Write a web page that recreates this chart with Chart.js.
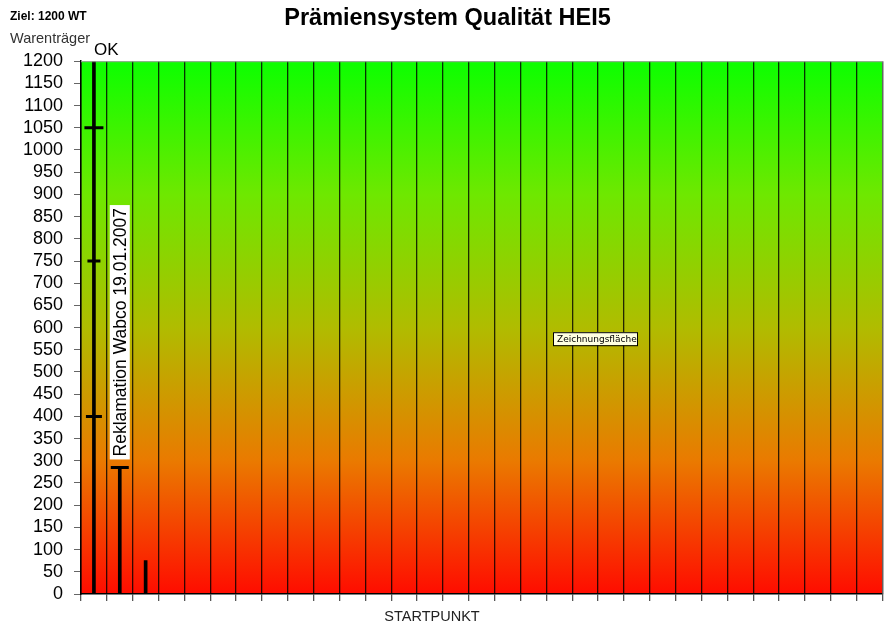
<!DOCTYPE html>
<html>
<head>
<meta charset="utf-8">
<script src="https://cdn.jsdelivr.net/npm/chart.js@4"></script>
<style>
    html, body { margin: 0; padding: 0; background: #fff; }
    #wrap { width: 895px; height: 627px; position: relative; }
</style>
</head>
<body>
<div id="wrap"><canvas id="chart"></canvas></div>
<script>
// 31 unlabeled slots along the x axis
const categories = ['', '', '', '', '', '', '', '', '', '', '', '', '', '', '', '',
    '', '', '', '', '', '', '', '', '', '', '', '', '', '', ''];
const reachedValues = [1200, 285, 75];
const marksUpper = [1050, 285];
const marksMiddle = [750];
const marksLower = [400];
const yMin = 0;
const yMax = 1200;
const yStep = 50;

const FONT = '"Liberation Sans", Arial, sans-serif';

const backgroundPlugin = {
    id: 'plotBackground',
    beforeDraw(chart) {
        const { ctx, chartArea: a } = chart;
        const g = ctx.createLinearGradient(0, a.top, 0, a.bottom);
        g.addColorStop(0, '#0cff00');
        g.addColorStop(0.25, '#6ee800');
        g.addColorStop(0.5, '#b0bc00');
        g.addColorStop(0.75, '#ea7a00');
        g.addColorStop(1, '#ff0c00');
        ctx.save();
        ctx.fillStyle = g;
        ctx.fillRect(a.left, a.top, a.right - a.left, a.bottom - a.top);
        ctx.restore();
    },
    afterDraw(chart) {
        const { ctx, chartArea: a, scales } = chart;
        ctx.save();
        // grey frame top and right
        ctx.strokeStyle = '#a0a0a0';
        ctx.lineWidth = 1;
        ctx.beginPath();
        ctx.moveTo(a.left, a.top + 0.5);
        ctx.lineTo(a.right + 0.5, a.top + 0.5);
        ctx.lineTo(a.right + 0.5, a.bottom);
        ctx.stroke();

        // header texts
        ctx.fillStyle = '#000';
        ctx.textBaseline = 'alphabetic';
        ctx.textAlign = 'left';
        ctx.font = 'bold 12px ' + FONT;
        ctx.fillText('Ziel: 1200 WT', 10, 20);
        ctx.fillStyle = '#333';
        ctx.font = '14.5px ' + FONT;
        ctx.fillText('Warenträger', 10, 43);

        // OK above first slot
        const x0 = scales.x.getPixelForValue(0);
        ctx.fillStyle = '#000';
        ctx.font = '17px ' + FONT;
        ctx.fillText('OK', x0, 55);

        // rotated label over second slot
        const x1 = scales.x.getPixelForValue(1);
        const text = 'Reklamation Wabco 19.01.2007';
        ctx.font = '17.5px ' + FONT;
        const w = ctx.measureText(text).width;
        const bottom = scales.y.getPixelForValue(reachedValues[1]) - 10;
        ctx.translate(x1, bottom);
        ctx.rotate(-Math.PI / 2);
        ctx.fillStyle = '#fff';
        ctx.fillRect(-2, -10, w + 6, 20);
        ctx.fillStyle = '#000';
        ctx.textBaseline = 'middle';
        ctx.fillText(text, 1, 1);
        ctx.setTransform(1, 0, 0, 1, 0, 0);

        // little "Zeichnungsfläche" hint box
        const bx = a.left + 472, by = a.top + 271;
        ctx.fillStyle = '#ffffe1';
        ctx.fillRect(bx, by, 84, 13);
        ctx.strokeStyle = '#000';
        ctx.strokeRect(bx + 0.5, by + 0.5, 84, 13);
        ctx.fillStyle = '#000';
        ctx.font = '9px "DejaVu Sans", sans-serif';
        ctx.textBaseline = 'middle';
        ctx.textAlign = 'left';
        ctx.fillText('Zeichnungsfläche', bx + 4, by + 7);

        // x axis title
        ctx.fillStyle = '#222';
        ctx.font = '14.5px ' + FONT;
        ctx.textAlign = 'center';
        ctx.fillText('STARTPUNKT', a.left + 351, 617);
        ctx.restore();
    }
};

new Chart(document.getElementById('chart'), {
    type: 'bar',
    data: {
        labels: categories,
        datasets: [
            {
                type: 'line',
                data: marksUpper,
                showLine: false,
                pointStyle: 'line',
                pointRadius: [9.5, 9],
                pointBorderWidth: 3,
                pointBorderColor: '#000',
                pointBackgroundColor: '#000'
            },
            {
                type: 'line',
                data: marksMiddle,
                showLine: false,
                pointStyle: 'line',
                pointRadius: 6.5,
                pointBorderWidth: 3,
                pointBorderColor: '#000'
            },
            {
                type: 'line',
                data: marksLower,
                showLine: false,
                pointStyle: 'line',
                pointRadius: 8,
                pointBorderWidth: 3,
                pointBorderColor: '#000'
            },
            {
                data: reachedValues,
                backgroundColor: '#000',
                barThickness: 3,
                borderWidth: 0
            }
        ]
    },
    options: {
        responsive: true,
        maintainAspectRatio: false,
        animation: false,
        events: [],
        layout: { padding: { top: 2, right: 10, bottom: 26, left: 10 } },
        plugins: {
            legend: { display: false },
            tooltip: { enabled: false },
            title: {
                display: true,
                text: 'Prämiensystem Qualität HEI5',
                color: '#000',
                font: { family: FONT, size: 23.5, weight: 'bold' },
                padding: { top: 2, bottom: 29 }
            }
        },
        scales: {
            x: {
                offset: true,
                grid: {
                    offset: true,
                    color: 'rgba(0,0,0,0.8)',
                    lineWidth: 1.3,
                    tickColor: '#555',
                    tickLength: 7
                },
                border: { color: '#000', width: 1.5 },
                ticks: { display: false }
            },
            y: {
                min: yMin,
                max: yMax,
                ticks: {
                    stepSize: yStep,
                    autoSkip: false,
                    color: '#000',
                    padding: 11,
                    font: { family: FONT, size: 18 },
                    callback: (v) => String(v)
                },
                grid: {
                    drawOnChartArea: false,
                    tickLength: 7,
                    tickColor: '#666'
                },
                border: { color: '#000', width: 1.5 },
                afterFit(scale) { scale.width = 71; }
            }
        }
    },
    plugins: [backgroundPlugin]
});
</script>
</body>
</html>
